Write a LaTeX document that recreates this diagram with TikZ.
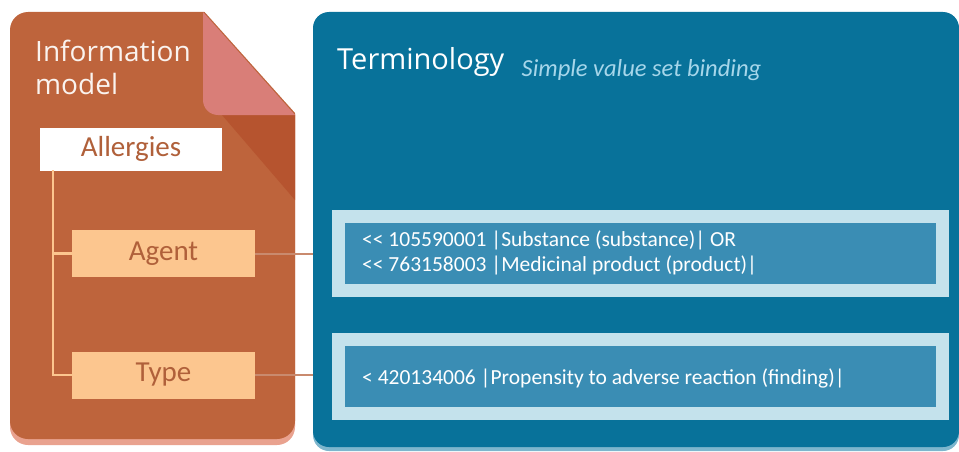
\documentclass[tikz,border=0pt]{standalone}
\usepackage{fontspec}
\setmainfont{Carlito}
\newfontfamily\titolofont{Open Sans}
\usetikzlibrary{positioning}

\definecolor{arancio}{HTML}{BE643C}
\definecolor{arancioscuro}{HTML}{B6542F}
\definecolor{piega}{HTML}{D97E78}
\definecolor{ombraar}{HTML}{E9A28F}
\definecolor{pesca}{HTML}{FCC68F}
\definecolor{testoar}{HTML}{B0603A}
\definecolor{blu}{HTML}{08729A}
\definecolor{ombrablu}{HTML}{7DB6CD}
\definecolor{bluchiaro}{HTML}{3A8DB4}
\definecolor{bordoblu}{HTML}{C4E2EC}
\definecolor{celeste}{HTML}{A6D6EA}
\definecolor{filo}{HTML}{C98A6E}

\newcommand{\mm}{<\kern0pt<}

\begin{document}
\begin{tikzpicture}[x=1pt, y=-1pt,
	classe/.style  = {fill=pesca, text=testoar, font=\fontsize{29}{29}\selectfont,
		minimum width=183pt, minimum height=47pt, inner sep=0pt},
	radice/.style  = {fill=white, text=testoar, font=\fontsize{29}{29}\selectfont,
		minimum width=182pt, minimum height=43pt, inner sep=0pt},
	vincolo/.style = {fill=bluchiaro, draw=bordoblu, line width=13pt,
		minimum width=604pt, minimum height=74pt, inner sep=0pt},
	codice/.style  = {text=white, font=\fontsize{21.5}{25}\selectfont,
		align=left, anchor=west, inner sep=0pt},
	albero/.style  = {pesca, line width=2.6pt},
	legame/.style  = {filo, line width=2pt},
	]
	
	%% ── Cornice ──────────────────────────────────────────────────────────────
	\useasboundingbox (0,0) rectangle (959,452);
	
	%% ── Modello informativo (foglio arancio) ─────────────────────────────────
	\fill[ombraar, rounded corners=18](10,20) rectangle (295,445);
	\fill[arancio, rounded corners=18](10,12) rectangle (295,439);
	\fill[white](203,10) -- (297,10) -- (297,115) -- cycle;
	%% ombra e piega dell'angolo
	\fill[arancioscuro](222,115) -- (295,115) -- (295,200) -- cycle;
	\fill[piega](203,12) -- (295,115) [rounded corners=15]-- (203,115) [sharp corners]-- cycle;
	
	\node[text=white!92!arancio, font=\titolofont\fontsize{28}{33}\selectfont,
		align=left, anchor=north west, inner sep=0pt] (titoloIM) at (35,40)
		{Information\\model};
	
	%% ── Classi ───────────────────────────────────────────────────────────────
	\node[radice] (allergie) at (131,149) {Allergies};
	\node[classe] (agente)   at (163.5,253.5) {Agent};
	\node[classe] (tipo)     at (163.5,375) {Type};
	
	\coordinate (tronco) at (53,170);
	\draw[albero](tronco) |- (tipo.west);
	\draw[albero](tronco |- agente.west) -- (agente.west);
	
	%% ── Terminologia (pannello blu) ──────────────────────────────────────────
	\fill[ombrablu, rounded corners=16](313,20) rectangle (959,451);
	\fill[blu, rounded corners=16](313,12) rectangle (959,447);
	
	\node[text=white, font=\titolofont\fontsize{29}{29}\selectfont,
		anchor=base west, inner sep=0pt] (titoloT) at (337,70) {Terminology};
	\node[text=celeste, font=\fontsize{24.5}{24.5}\selectfont\itshape,
		anchor=base west, inner sep=0pt, right=17pt of titoloT.base east]
		(sottotitolo) {Simple value set binding};
	
	%% ── Vincoli di valore ────────────────────────────────────────────────────
	\node[vincolo] (vincoloA) at (640,253.5) {};
	\node[vincolo] (vincoloB) at (640,376.5) {};
	
	\node[codice] (codiceA) at (362,253)
		{\mm{} 105590001 |Substance (substance)| OR\\
		 \mm{} 763158003 |Medicinal product (product)|};
	\node[codice] (codiceB) at (362,378)
		{< 420134006 |Propensity to adverse reaction (finding)|};
	
	%% ── Legami ───────────────────────────────────────────────────────────────
	\coordinate (bordoA) at (313,253.5);
	\coordinate (bordoB) at (313,375);
	\draw[legame](agente.east) -- (bordoA);
	\draw[legame](tipo.east) -- (bordoB);
	
\end{tikzpicture}
\end{document}
